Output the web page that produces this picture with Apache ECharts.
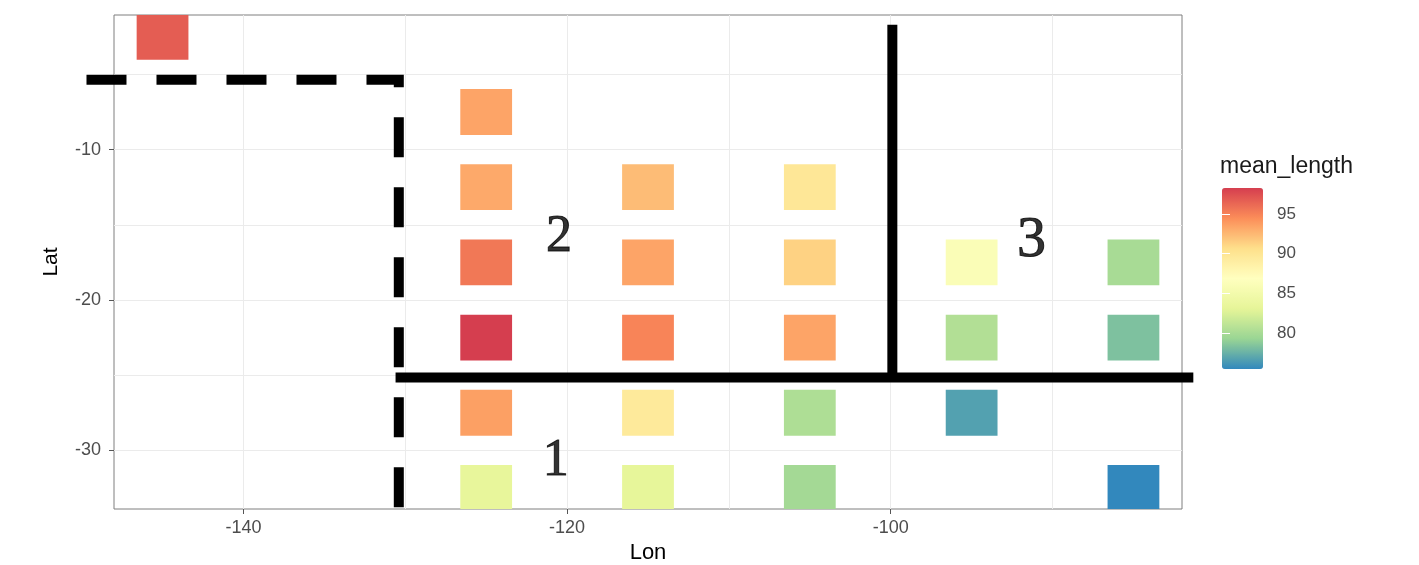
<!DOCTYPE html>
<html><head><meta charset="utf-8">
<script src="https://cdn.jsdelivr.net/npm/echarts@6/dist/echarts.min.js"></script>
<style>html,body{margin:0;padding:0;background:#fff}#c{width:1419px;height:565px}</style>
</head><body><div id="c"></div>
<script>
// ---- data ----
const lon = [-145,-125,-125,-125,-125,-125,-125,-115,-115,-115,-115,-115,-105,-105,-105,-105,-105,-95,-95,-95,-85,-85,-85];
const lat = [-2.5,-7.5,-12.5,-17.5,-22.5,-27.5,-32.5,-12.5,-17.5,-22.5,-27.5,-32.5,-12.5,-17.5,-22.5,-27.5,-32.5,-17.5,-22.5,-27.5,-17.5,-22.5,-32.5];
const meanLength = [96.8,93.4,93.2,95.5,98.27,93.6,83.4,92.3,93.4,94.9,89.5,83.3,89.8,91.3,93.4,80.3,79.8,86.1,80.5,76.7,80.0,78.3,75.48];

const lonTicks = [-140,-120,-100];
const latTicks = [-30,-20,-10];
const lonGrid = [-140,-130,-120,-110,-100,-90];
const latGrid = [-30,-25,-20,-15,-10,-5];
const legendTicks = [80,85,90,95];

const dashLon = [-149.7,-130.4,-130.4];
const dashLat = [-5.35,-5.35,-33.9];
const hLineLon = [-130.6,-81.3];
const hLineLat = [-25.15,-25.15];
const vLineLon = [-99.9,-99.9];
const vLineLat = [-1.7,-25.15];

const regionLabels = ['1','2','3'];
const regionLon = [-120.7,-120.5,-91.3];
const regionLat = [-30.7,-15.85,-16.05];

const spectral = ['#3288BD','#99D594','#E6F598','#FFFFBF','#FEE08B','#FC8D59','#D53E4F'];
// ---- build ----
const tiles = lon.map((x,i)=>[x, lat[i], meanLength[i]]);
const zip = (a,b)=>a.map((v,i)=>[v,b[i]]);
const TW = 3.2, TH = 3.05;
const font = 'Liberation Sans, Arial, sans-serif';
const labelSizes = {'1':52, '2':52, '3':58};

function pathSeries(xs, ys, dash){
  return {type:'custom', coordinateSystem:'cartesian2d', xAxisIndex:0, yAxisIndex:0,
    clip:false, silent:true, z:5, data:zip(xs, ys), encode:{x:0, y:1},
    renderItem:(params, api)=>{
      if (params.dataIndex !== 0) return null;
      const pts = xs.map((x,i)=>api.coord([x, ys[i]]));
      return {type:'polyline', shape:{points:pts},
        style:{stroke:'#000', lineWidth:10, fill:null, lineDash:dash, lineCap:'butt', lineJoin:'miter'}};
    }};
}

const chart = echarts.init(document.getElementById('c'));
chart.setOption({
  animation:false,
  backgroundColor:'#ffffff',
  title:{text:'mean_length', left:1220, top:155, padding:0,
    textStyle:{fontFamily:font, fontSize:23, fontWeight:'normal', color:'#1a1a1a'}},
  grid:[
    {left:114, top:15, width:1068, height:494, show:true, borderColor:'#7f7f7f', borderWidth:1,
     backgroundColor:'transparent', containLabel:false, outerBoundsMode:'none'},
    {left:1222, top:188, width:41, height:181, show:false, containLabel:false, outerBoundsMode:'none'}
  ],
  xAxis:[
    {gridIndex:0, type:'value', min:-148, max:-82,
     axisLine:{show:false},
     axisTick:{show:true, length:5, customValues:lonTicks, lineStyle:{color:'#555'}},
     axisLabel:{customValues:lonTicks, color:'#4d4d4d', fontSize:18, margin:10, fontFamily:font},
     splitLine:{show:false},
     name:'Lon', nameLocation:'middle', nameGap:30,
     nameTextStyle:{fontFamily:font, fontSize:22, color:'#000'}},
    {gridIndex:1, type:'value', min:0, max:1, show:false}
  ],
  yAxis:[
    {gridIndex:0, type:'value', min:-33.9, max:-1.05,
     axisLine:{show:false},
     axisTick:{show:true, length:5, customValues:latTicks, lineStyle:{color:'#555'}},
     axisLabel:{customValues:latTicks, color:'#4d4d4d', fontSize:18, margin:13, fontFamily:font},
     splitLine:{show:false},
     name:'Lat', nameLocation:'middle', nameGap:52, nameRotate:90,
     nameTextStyle:{fontFamily:font, fontSize:21, color:'#000'}},
    {gridIndex:1, type:'value', min:75.48, max:98.27, position:'right', z:10,
     axisLine:{show:false},
     axisTick:{show:true, inside:true, length:8, customValues:legendTicks, lineStyle:{color:'#ffffff', width:1}},
     axisLabel:{customValues:legendTicks, color:'#4d4d4d', fontSize:17, margin:14, fontFamily:font},
     splitLine:{show:false}},
    {gridIndex:1, type:'value', min:75.48, max:98.27, position:'left', z:10,
     axisLine:{show:false},
     axisTick:{show:true, inside:true, length:8, customValues:legendTicks, lineStyle:{color:'#ffffff', width:1}},
     axisLabel:{show:false}, splitLine:{show:false}}
  ],
  visualMap:{type:'continuous', min:75.48, max:98.27, seriesIndex:0, dimension:2,
    left:1222, top:188, itemWidth:41, itemHeight:181, padding:0, calculable:false,
    hoverLink:false, inRange:{color:spectral}, textStyle:{color:'#4d4d4d'}},
  series:[
    {type:'custom', coordinateSystem:'cartesian2d', xAxisIndex:0, yAxisIndex:0, clip:true,
     data:tiles, encode:{x:0, y:1},
     renderItem:(params, api)=>{
       const c = api.coord([api.value(0), api.value(1)]);
       const s = api.size([TW, TH]);
       return {type:'rect', shape:{x:c[0]-s[0]/2, y:c[1]-s[1]/2, width:s[0], height:s[1]},
               style:{fill:api.visual('color')}};
     },
     markLine:{silent:true, symbol:'none', label:{show:false}, animation:false,
       lineStyle:{color:'#ebebeb', width:1, type:'solid'}, emphasis:{disabled:true},
       data:[...lonGrid.map(v=>({xAxis:v})), ...latGrid.map(v=>({yAxis:v}))]},
     z:2},
    pathSeries(dashLon, dashLat, [40,30]),
    pathSeries(hLineLon, hLineLat, null),
    pathSeries(vLineLon, vLineLat, null),
    {type:'scatter', xAxisIndex:0, yAxisIndex:0, symbolSize:0, silent:true, clip:false,
     data:regionLabels.map((t,i)=>({name:t, value:[regionLon[i], regionLat[i]],
        label:{fontSize:labelSizes[t]}})),
     label:{show:true, position:'inside', formatter:'{b}', color:'#000',
       textBorderColor:'#000', textBorderWidth:1,
       fontFamily:'Liberation Serif, Times New Roman, serif', fontSize:52}, z:6}
  ]
});
</script></body></html>
